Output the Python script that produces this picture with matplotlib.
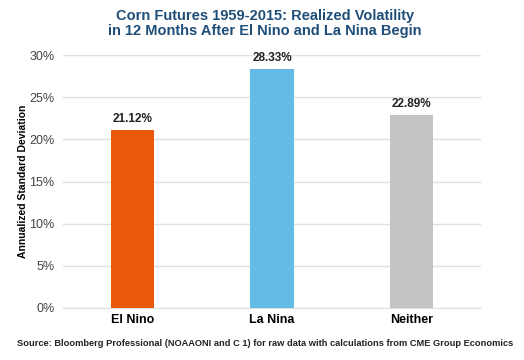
import matplotlib.pyplot as plt
from matplotlib.ticker import FuncFormatter

categories = ['El Nino', 'La Nina', 'Neither']
volatility = [21.12, 28.33, 22.89]
colors = ['#e8590c', '#63bbe8', '#c4c4c4']

plt.rcParams['font.family'] = ['Liberation Sans', 'DejaVu Sans']

fig = plt.figure(figsize=(5.24, 3.6), dpi=100)
ax = fig.add_axes([63/524, 1 - 308/360, 418/524, 253/360])

ax.bar(categories, volatility, width=0.31, color=colors, zorder=3)
for i, v in enumerate(volatility):
    ax.text(i, v + 0.6, f'{v:.2f}%', ha='center', va='bottom',
            fontsize=8.5, fontweight='bold', color='#222222')

ax.set_xlim(-0.5, 2.5)
ax.set_ylim(0, 30)
ax.set_yticks(range(0, 31, 5))
ax.yaxis.set_major_formatter(FuncFormatter(lambda v, p: f'{v:.0f}%'))
ax.grid(axis='y', color='#e0e0e0', linewidth=1, zorder=0)
ax.set_axisbelow(True)
for s in ['top', 'right', 'left']:
    ax.spines[s].set_visible(False)
ax.spines['bottom'].set_color('#e0e0e0')
ax.tick_params(axis='y', length=0, labelsize=9, labelcolor='#444444', pad=6)
ax.tick_params(axis='x', length=0, labelsize=9, pad=4)
for lbl in ax.get_xticklabels():
    lbl.set_fontweight('bold')

ax.set_ylabel('Annualized Standard Deviation', fontsize=7.5, fontweight='bold', labelpad=1)

fig.text(0.505, 0.975, 'Corn Futures 1959-2015: Realized Volatility\nin 12 Months After El Nino and La Nina Begin',
         ha='center', va='top', fontsize=10.5, fontweight='bold', color='#1f4e79', linespacing=1.1)
fig.text(0.033, 0.045, 'Source: Bloomberg Professional (NOAAONI and C 1) for raw data with calculations from CME Group Economics',
         ha='left', va='center', fontsize=6.65, fontweight='bold', color='#222222')

fig.savefig('out.png', dpi=100)
